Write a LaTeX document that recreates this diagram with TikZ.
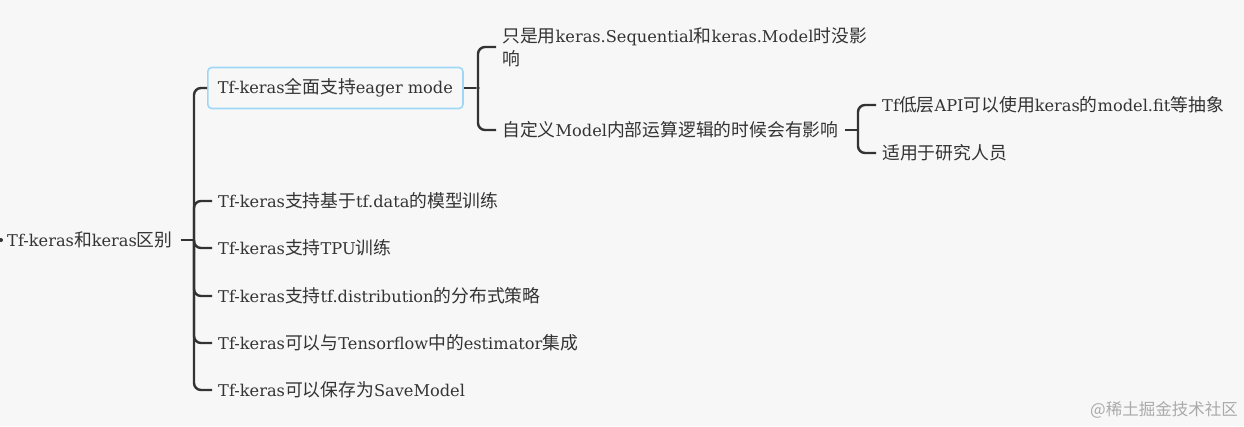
\documentclass[tikz,border=0pt]{standalone}
\usepackage{fontspec}
\setmainfont{DejaVu Serif}[Scale=0.91]
\newfontfamily\cjk{Noto Sans CJK SC}
\newcommand\zh[1]{{\cjk #1}}
\definecolor{bg}{HTML}{F7F7F7}
\definecolor{ink}{HTML}{333333}
\definecolor{boxblue}{HTML}{9ED8F5}
\definecolor{wm}{HTML}{AAAAAA}
\tikzset{
  conn/.style={draw=ink, line width=2.4pt, rounded corners=7pt},
  topic/.style={anchor=west, text=ink, inner xsep=6pt, inner ysep=2pt, font=\fontsize{17.8}{23}\selectfont, align=left},
  selbox/.style={topic, draw=boxblue, line width=1.6pt, rounded corners=4pt, inner xsep=10pt, minimum height=41pt},
}
\begin{document}
\begin{tikzpicture}[x=1pt,y=-1pt]
\fill[bg] (0,0) rectangle (1244,426);
\useasboundingbox (0,0) rectangle (1244,426);

\fill[ink] (1,240) circle (2pt);
\node[topic, inner xsep=0pt] (root) at (7,240) {Tf-keras\zh{和}keras\zh{区别}};

\coordinate (j0) at (194,240);
\node[selbox] (c1) at (207,88) {Tf-keras\zh{全面支持}eager mode};
\node[topic] (c2) at (212,201) {Tf-keras\zh{支持基于}tf.data\zh{的模型训练}};
\node[topic] (c3) at (212,248) {Tf-keras\zh{支持}TPU\zh{训练}};
\node[topic] (c4) at (212,296) {Tf-keras\zh{支持}tf.distribution\zh{的分布式策略}};
\node[topic] (c5) at (212,343) {Tf-keras\zh{可以与}Tensorflow\zh{中的}estimator\zh{集成}};
\node[topic] (c6) at (212,390) {Tf-keras\zh{可以保存为}SaveModel};

\draw[conn] ([xshift=8pt]root.east) -- (j0);
\foreach \c in {c1,c2,c3,c4,c5,c6}{
  \draw[conn] (j0) |- (\c.west);
}

\coordinate (j1) at (478,88);
\node[topic] (d1) at (496,47) {\zh{只是用}keras.Sequential\zh{和}keras.Model\zh{时没影}\\\zh{响}};
\node[topic] (d2) at (496,130) {\zh{自定义}Model\zh{内部运算逻辑的时候会有影响}};
\draw[conn] (c1.east) -- (j1);
\fill[white, draw=ink!60, line width=0.6pt] (j1) circle (1.8pt);
\draw[conn] (j1) |- (d1.west);
\draw[conn] (j1) |- (d2.west);

\coordinate (j2) at (858,130);
\node[topic] (e1) at (876,105) {Tf\zh{低层}API\zh{可以使用}keras\zh{的}model.fit\zh{等抽象}};
\node[topic] (e2) at (876,153) {\zh{适用于研究人员}};
\draw[conn] (d2.east) -- (j2);
\draw[conn] (j2) |- (e1.west);
\draw[conn] (j2) |- (e2.west);

\node[anchor=east, text=wm, font=\cjk\fontsize{16.5}{18}\selectfont, inner sep=0pt] (wmk) at (1238,410) {@稀土掘金技术社区};
\end{tikzpicture}
\end{document}
